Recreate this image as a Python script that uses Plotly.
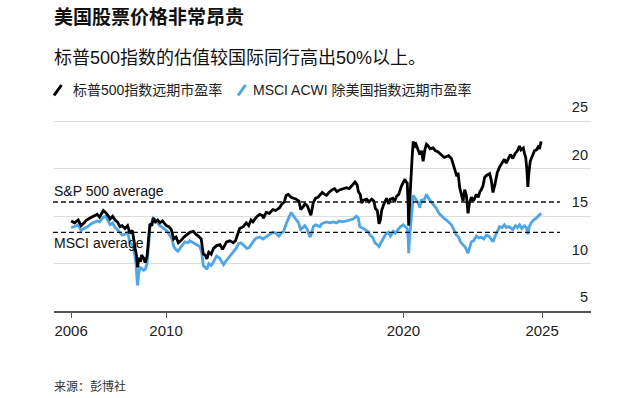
import plotly.graph_objects as go

# ---------------- data ----------------
sp_years = [2006.00, 2006.15, 2006.30, 2006.42, 2006.55, 2006.65, 2006.80, 2006.94, 2007.10, 2007.20,
            2007.36, 2007.45, 2007.55, 2007.64, 2007.75, 2007.85, 2007.95, 2008.06, 2008.15, 2008.27,
            2008.38, 2008.48, 2008.58, 2008.70, 2008.76, 2008.80, 2008.85, 2008.92, 2008.97, 2009.05,
            2009.12, 2009.20, 2009.27, 2009.32, 2009.40, 2009.46, 2009.55, 2009.65, 2009.74, 2009.85,
            2009.95, 2010.02, 2010.12, 2010.22, 2010.32, 2010.42, 2010.52, 2010.62, 2010.75, 2010.88,
            2011.00, 2011.15, 2011.25, 2011.36, 2011.48, 2011.57, 2011.65, 2011.72, 2011.80, 2011.90,
            2012.00, 2012.13, 2012.27, 2012.38, 2012.45, 2012.55, 2012.68, 2012.83, 2012.92, 2013.00,
            2013.10, 2013.25, 2013.38, 2013.48, 2013.58, 2013.66, 2013.80, 2013.94, 2014.05, 2014.10,
            2014.22, 2014.35, 2014.50, 2014.62, 2014.78, 2014.88, 2014.98, 2015.06, 2015.15, 2015.27,
            2015.40, 2015.48, 2015.60, 2015.67, 2015.75, 2015.85, 2015.95, 2016.05, 2016.10, 2016.20,
            2016.30, 2016.40, 2016.48, 2016.58, 2016.68, 2016.76, 2016.86, 2017.00, 2017.10, 2017.20,
            2017.33, 2017.45, 2017.60, 2017.72, 2017.85, 2017.96, 2018.05, 2018.10, 2018.18, 2018.24,
            2018.32, 2018.45, 2018.55, 2018.66, 2018.75, 2018.82, 2018.90, 2018.97, 2019.03, 2019.08,
            2019.18, 2019.29, 2019.38, 2019.45, 2019.55, 2019.62, 2019.71, 2019.80, 2019.92, 2020.06,
            2020.12, 2020.16, 2020.20, 2020.22, 2020.25, 2020.31, 2020.36, 2020.41, 2020.45, 2020.50,
            2020.55, 2020.62, 2020.69, 2020.76, 2020.83, 2020.90, 2020.97, 2021.05, 2021.12, 2021.25,
            2021.35, 2021.45, 2021.53, 2021.62, 2021.72, 2021.81, 2021.90, 2022.02, 2022.10, 2022.16,
            2022.25, 2022.30, 2022.37, 2022.45, 2022.51, 2022.58, 2022.65, 2022.72, 2022.78, 2022.86,
            2022.95, 2023.07, 2023.15, 2023.22, 2023.28, 2023.35, 2023.42, 2023.50, 2023.63, 2023.70,
            2023.77, 2023.85, 2023.95, 2024.05, 2024.15, 2024.25, 2024.33, 2024.40, 2024.50, 2024.61,
            2024.70, 2024.80, 2024.89, 2024.95, 2025.05, 2025.10, 2025.15, 2025.20, 2025.24, 2025.28,
            2025.34, 2025.42, 2025.52, 2025.60, 2025.67, 2025.73, 2025.80]
sp_pe = [14.5, 14.3, 14.6, 14.0, 14.3, 14.6, 14.8, 15.0, 15.2, 14.9,
         15.6, 15.4, 15.1, 14.7, 15.0, 14.6, 14.4, 13.9, 14.0, 13.7,
         14.0, 13.2, 13.5, 11.6, 10.8, 9.6, 10.6, 10.2, 10.9, 10.6,
         10.1, 10.8, 12.5, 14.2, 14.0, 14.8, 14.4, 14.6, 14.3, 14.5,
         14.2, 14.0, 13.9, 13.6, 12.6, 12.8, 12.2, 12.4, 12.8, 13.1,
         13.3, 13.4, 13.1, 12.9, 12.6, 11.0, 10.9, 10.5, 11.2, 11.0,
         11.6, 11.9, 12.0, 11.5, 11.8, 12.3, 12.4, 12.2, 12.4, 13.0,
         13.7, 13.9, 14.3, 14.0, 14.6, 14.4, 14.9, 15.2, 15.1, 14.8,
         15.4, 15.3, 15.7, 15.6, 15.9, 16.3, 16.5, 17.2, 17.3, 17.0,
         16.9, 16.8, 16.6, 15.7, 15.9, 16.3, 16.1, 15.4, 15.1, 16.4,
         16.9, 17.0, 17.2, 17.5, 17.3, 17.2, 17.5, 17.8, 17.9, 17.6,
         17.8, 17.9, 18.0, 17.9, 18.3, 18.6, 18.3, 17.6, 17.3, 16.4,
         16.7, 16.8, 16.5, 16.8, 16.6, 15.8, 15.6, 14.2, 14.6, 15.6,
         16.3, 16.9, 16.3, 16.8, 16.9, 16.5, 17.1, 17.3, 18.2, 18.9,
         18.6, 18.5, 16.0, 14.0, 15.8, 19.5, 21.0, 22.9, 22.2, 22.8,
         22.4, 22.1, 21.5, 21.9, 20.8, 22.0, 22.6, 22.4, 22.1, 22.2,
         21.9, 21.8, 21.6, 21.4, 21.2, 21.3, 21.4, 21.1, 20.4, 20.0,
         19.2, 19.6, 18.0, 17.2, 16.6, 17.8, 17.2, 15.3, 16.4, 17.0,
         16.6, 17.3, 17.0, 17.6, 17.8, 18.2, 19.1, 19.3, 19.5, 18.8,
         17.5, 18.3, 19.6, 20.2, 20.6, 21.0, 20.6, 21.0, 21.5, 21.1,
         21.6, 21.9, 22.4, 22.0, 22.2, 21.6, 21.2, 19.9, 18.1, 19.5,
         20.8, 21.3, 21.9, 22.0, 22.3, 22.1, 22.9]

msci_years = [2006.00, 2006.15, 2006.30, 2006.42, 2006.55, 2006.70, 2006.85, 2006.94, 2007.10, 2007.20,
              2007.36, 2007.45, 2007.55, 2007.64, 2007.75, 2007.85, 2007.95, 2008.06, 2008.15, 2008.27,
              2008.38, 2008.48, 2008.58, 2008.68, 2008.74, 2008.78, 2008.80, 2008.84, 2008.90, 2008.97,
              2009.05, 2009.12, 2009.20, 2009.27, 2009.32, 2009.40, 2009.46, 2009.55, 2009.65, 2009.74,
              2009.86, 2009.95, 2010.05, 2010.15, 2010.25, 2010.32, 2010.40, 2010.50, 2010.60, 2010.70,
              2010.80, 2010.92, 2011.00, 2011.15, 2011.30, 2011.42, 2011.50, 2011.57, 2011.65, 2011.72,
              2011.80, 2011.90, 2012.00, 2012.13, 2012.25, 2012.35, 2012.42, 2012.50, 2012.60, 2012.72,
              2012.83, 2012.95, 2013.05, 2013.15, 2013.28, 2013.40, 2013.50, 2013.62, 2013.72, 2013.80,
              2013.95, 2014.08, 2014.20, 2014.36, 2014.50, 2014.64, 2014.75, 2014.85, 2014.95, 2015.06,
              2015.15, 2015.27, 2015.35, 2015.48, 2015.58, 2015.67, 2015.75, 2015.85, 2015.95, 2016.06,
              2016.12, 2016.20, 2016.30, 2016.40, 2016.48, 2016.55, 2016.65, 2016.76, 2016.90, 2017.05,
              2017.18, 2017.30, 2017.45, 2017.60, 2017.74, 2017.88, 2018.02, 2018.10, 2018.16, 2018.25,
              2018.38, 2018.50, 2018.59, 2018.70, 2018.80, 2018.90, 2018.97, 2019.05, 2019.15, 2019.25,
              2019.36, 2019.45, 2019.57, 2019.65, 2019.78, 2019.88, 2019.99, 2020.08, 2020.16, 2020.20,
              2020.22, 2020.26, 2020.33, 2020.38, 2020.41, 2020.48, 2020.55, 2020.62, 2020.69, 2020.76,
              2020.83, 2020.90, 2020.97, 2021.05, 2021.15, 2021.25, 2021.39, 2021.50, 2021.60, 2021.70,
              2021.81, 2021.92, 2022.02, 2022.12, 2022.23, 2022.32, 2022.40, 2022.50, 2022.58, 2022.65,
              2022.72, 2022.80, 2022.86, 2022.95, 2023.07, 2023.18, 2023.28, 2023.38, 2023.49, 2023.60,
              2023.70, 2023.77, 2023.88, 2023.98, 2024.05, 2024.15, 2024.25, 2024.33, 2024.45, 2024.55,
              2024.61, 2024.72, 2024.80, 2024.89, 2024.98, 2025.10, 2025.18, 2025.24, 2025.30, 2025.38,
              2025.48, 2025.59, 2025.70, 2025.80]
msci_pe = [13.8, 13.9, 14.1, 13.5, 13.7, 13.9, 14.2, 14.3, 14.5, 14.4,
           14.9, 15.0, 14.6, 14.1, 14.3, 13.8, 13.6, 13.2, 13.0, 13.1,
           13.3, 12.2, 12.0, 11.0, 9.8, 8.2, 7.7, 8.8, 9.6, 9.5,
           9.3, 9.4, 10.0, 12.0, 13.8, 14.3, 14.8, 14.6, 14.3, 14.0,
           13.8, 13.6, 13.4, 13.0, 12.6, 11.8, 11.5, 11.3, 11.7, 12.0,
           12.3, 12.2, 12.4, 12.2, 12.0, 11.8, 11.2, 9.8, 9.6, 9.4,
           10.0, 9.8, 10.2, 10.8, 10.6, 10.1, 9.9, 10.2, 10.5, 10.9,
           11.3, 11.6, 12.1, 12.2, 11.9, 11.6, 11.7, 12.2, 12.5, 12.7,
           12.8, 12.6, 12.8, 13.1, 13.3, 13.2, 12.9, 13.2, 13.4, 14.2,
           14.8, 15.4, 15.1, 14.6, 14.3, 13.6, 13.8, 14.0, 13.6, 12.8,
           13.1, 13.9, 14.1, 14.0, 13.9, 14.2, 14.3, 14.4, 14.3, 14.4,
           14.3, 14.5, 14.4, 14.5, 14.6, 14.7, 15.0, 14.8, 13.9, 13.8,
           13.6, 13.4, 13.0, 12.8, 12.2, 12.0, 11.8, 12.2, 12.7, 13.1,
           13.3, 12.9, 13.4, 13.2, 13.6, 13.9, 14.1, 13.9, 13.7, 12.5,
           11.1, 12.8, 14.4, 16.2, 17.2, 16.9, 16.7, 16.4, 15.9, 16.8,
           16.5, 17.0, 17.3, 16.9, 16.6, 16.2, 15.8, 15.3, 15.0, 14.8,
           14.6, 14.3, 14.1, 13.6, 13.0, 12.8, 12.3, 12.0, 11.8, 11.5,
           11.1, 11.8, 12.3, 12.4, 12.9, 12.7, 12.8, 12.6, 13.0, 12.9,
           12.6, 12.3, 13.0, 13.5, 13.9, 13.8, 14.1, 13.8, 13.9, 13.7,
           13.6, 14.0, 13.8, 14.1, 13.7, 14.0, 13.8, 13.1, 13.9, 14.3,
           14.6, 14.8, 15.1, 15.3]

sp_avg = 16.5
msci_avg = 13.3

x_tick_vals = [2006, 2010, 2020, 2025.84]
x_tick_text = ["2006", "2010", "2020", "2025"]
y_tick_vals = [5, 10, 15, 20, 25]

title_text = "美国股票价格非常昂贵"
subtitle_text = "标普500指数的估值较国际同行高出50%以上。"
sp_name = "标普500指数远期市盈率"
msci_name = "MSCI ACWI 除美国指数远期市盈率"
source_text = "来源：彭博社"

# ---------------- styling ----------------
FONT = "Liberation Sans, Noto Sans CJK SC, sans-serif"
BLACK = "#000000"
BLUE = "#4ba6ea"
W, H = 640, 398
Y_MIN, Y_MAX = 5, 28            # extra headroom so the top label sits inside the plot
ML, MR, MT, MB = 54, 49, 93, 87
PW = W - ML - MR
PH = H - MT - MB


def px_x(p):
    return (p - ML) / PW


def px_y(p):
    return (H - MB - p) / PH


fig = go.Figure()
fig.add_trace(go.Scatter(x=msci_years, y=msci_pe, mode="lines", name=msci_name,
                         line=dict(color=BLUE, width=2.8), showlegend=False))
fig.add_trace(go.Scatter(x=sp_years, y=sp_pe, mode="lines", name=sp_name,
                         line=dict(color=BLACK, width=2.8), showlegend=False))

shapes = []
for v in (sp_avg, msci_avg):
    shapes.append(dict(type="line", xref="paper", yref="y", x0=px_x(53), x1=px_x(560), y0=v, y1=v,
                       line=dict(color="#111111", width=1.4, dash="5px,3px"), layer="above"))
# legend icons (slanted strokes)
shapes.append(dict(type="line", xref="paper", yref="paper", x0=px_x(54), y0=px_y(95.5),
                   x1=px_x(61.5), y1=px_y(85), line=dict(color=BLACK, width=3)))
shapes.append(dict(type="line", xref="paper", yref="paper", x0=px_x(238), y0=px_y(95.5),
                   x1=px_x(245.5), y1=px_y(85), line=dict(color=BLUE, width=3)))

annotations = [
    dict(text="<b>" + title_text + "</b>", xref="paper", yref="paper", x=px_x(52), y=px_y(17),
         xanchor="left", yanchor="middle", showarrow=False, font=dict(family=FONT, size=19, color="#111111")),
    dict(text=subtitle_text, xref="paper", yref="paper", x=px_x(52), y=px_y(58),
         xanchor="left", yanchor="middle", showarrow=False, font=dict(family=FONT, size=18, color="#111111")),
    dict(text=sp_name, xref="paper", yref="paper", x=px_x(71), y=px_y(90),
         xanchor="left", yanchor="middle", showarrow=False, font=dict(family=FONT, size=14, color="#222222")),
    dict(text=msci_name, xref="paper", yref="paper", x=px_x(251), y=px_y(90),
         xanchor="left", yanchor="middle", showarrow=False, font=dict(family=FONT, size=14, color="#222222")),
    dict(text="S&P 500 average", xref="paper", yref="y", x=px_x(52), y=sp_avg, yshift=1,
         xanchor="left", yanchor="bottom", showarrow=False, font=dict(family=FONT, size=14, color="#111111")),
    dict(text="MSCI average", xref="paper", yref="y", x=px_x(52), y=msci_avg, yshift=-1,
         xanchor="left", yanchor="top", showarrow=False, font=dict(family=FONT, size=14, color="#111111")),
    dict(text=source_text, xref="paper", yref="paper", x=px_x(52), y=px_y(386),
         xanchor="left", yanchor="middle", showarrow=False, font=dict(family=FONT, size=12, color="#333333")),
]

fig.update_layout(
    width=W, height=H,
    margin=dict(l=ML, r=MR, t=MT, b=MB, pad=0),
    paper_bgcolor="white", plot_bgcolor="white",
    font=dict(family=FONT, color="#222222"),
    showlegend=False,
    shapes=shapes,
    annotations=annotations,
    xaxis=dict(range=[2005.28, 2027.9], tickvals=x_tick_vals, ticktext=x_tick_text,
               showgrid=False, zeroline=False, showline=True, linecolor="#555555", linewidth=1.5,
               ticks="outside", ticklen=5, tickcolor="#555555", tickwidth=1,
               tickfont=dict(family=FONT, size=15, color="#222222"), fixedrange=True),
    yaxis=dict(range=[Y_MIN, Y_MAX], tickvals=y_tick_vals, side="right", showgrid=True,
               gridcolor="#dddddd", gridwidth=1, zeroline=False, showline=False, ticks="",
               ticklabelposition="inside top", ticklabelshift=-4,
               tickfont=dict(family=FONT, size=14.5, color="#222222"), fixedrange=True),
)

fig.write_html("out.html", config={"displayModeBar": False},
               post_script="document.body.style.margin='0';document.body.style.padding='0';")
